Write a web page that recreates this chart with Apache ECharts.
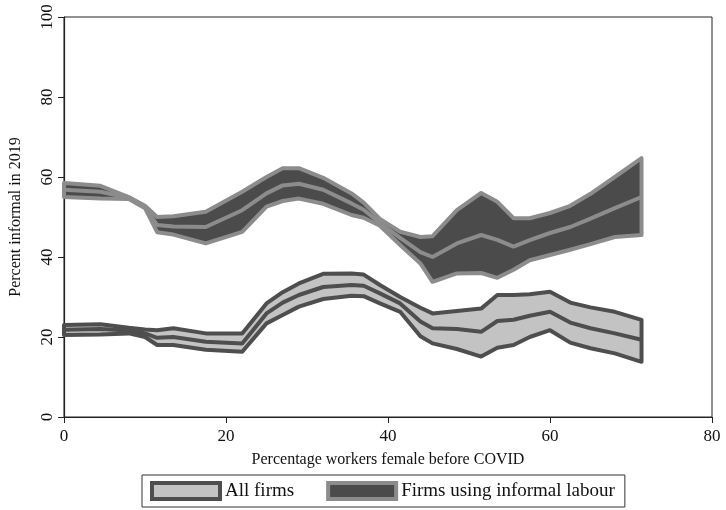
<!DOCTYPE html>
<html>
<head>
<meta charset="utf-8">
<script src="https://cdn.jsdelivr.net/npm/echarts@6/dist/echarts.min.js"></script>
<style>html,body{margin:0;padding:0;background:#fff}#c{width:726px;height:510px}</style>
</head>
<body>
<div id="c"></div>
<script>
const xs = [0, 4.5, 8, 10, 11.5, 13.5, 17.5, 22, 25, 27, 29, 32, 35.5, 37, 39, 41.5, 44, 45.5, 48.5, 51.5, 53.5, 55.5, 57.5, 60, 62.5, 65, 68, 71.3];

const informalUpper = [58.5, 57.8, 55.0, 52.8, 50.0, 50.2, 51.3, 56.3, 60.0, 62.2, 62.2, 59.8, 55.9, 53.6, 49.5, 46.3, 45.0, 45.2, 51.7, 56.0, 53.8, 49.7, 49.7, 51.0, 52.8, 55.8, 60.0, 64.7];
const informalMean  = [56.8, 56.3, 54.8, 52.5, 48.0, 47.6, 47.5, 51.7, 55.9, 57.9, 58.3, 56.8, 53.4, 51.8, 48.5, 44.8, 41.2, 40.0, 43.4, 45.5, 44.3, 42.6, 44.2, 46.0, 47.5, 49.6, 52.2, 55.0];
const informalLower = [55.0, 54.6, 54.5, 52.2, 46.2, 45.6, 43.4, 46.3, 52.6, 54.0, 54.6, 53.3, 50.5, 49.8, 47.8, 43.0, 38.4, 33.8, 35.9, 36.0, 34.8, 36.8, 39.2, 40.5, 41.8, 43.2, 45.0, 45.5];

const allUpper = [23.0, 23.2, 22.3, 21.9, 21.7, 22.2, 20.9, 20.9, 28.4, 31.2, 33.4, 35.8, 35.9, 35.6, 33.0, 30.0, 27.3, 25.9, 26.5, 27.1, 30.5, 30.5, 30.7, 31.3, 28.6, 27.4, 26.3, 24.3];
const allMean  = [21.8, 22.0, 21.6, 20.9, 19.8, 20.0, 18.8, 18.4, 25.9, 28.6, 30.5, 32.5, 33.0, 32.8, 30.9, 28.4, 23.9, 22.2, 22.0, 21.3, 24.0, 24.3, 25.3, 26.3, 23.6, 22.2, 20.9, 19.3];
const allLower = [20.5, 20.6, 20.9, 20.0, 18.0, 18.0, 16.8, 16.3, 23.4, 25.5, 27.6, 29.5, 30.3, 30.2, 28.4, 26.3, 20.2, 18.4, 17.0, 15.1, 17.3, 18.0, 20.0, 21.7, 18.6, 17.2, 15.9, 13.8];

const xTicks = [0, 20, 40, 60, 80];
const yTicks = [0, 20, 40, 60, 80, 100];
const seriesNames = ['All firms', 'Firms using informal labour'];

const C = {
  allFill: '#c3c3c3', allLine: '#4e4e4e',
  infFill: '#4b4b4b', infLine: '#8c8c8c'
};

function band(lo, hi, fill, stroke) {
  return function (params, api) {
    const pts = [];
    for (let i = 0; i < xs.length; i++) pts.push(api.coord([xs[i], hi[i]]));
    for (let i = xs.length - 1; i >= 0; i--) pts.push(api.coord([xs[i], lo[i]]));
    return {
      type: 'polygon',
      shape: { points: pts },
      style: { fill: fill, stroke: stroke, lineWidth: 4, lineJoin: 'round' }
    };
  };
}
const pairs = arr => xs.map((x, i) => [x, arr[i]]);
const font = 'Liberation Serif';

const chart = echarts.init(document.getElementById('c'), null, { renderer: 'canvas' });
chart.setOption({
  backgroundColor: '#fff',
  animation: false,
  grid: { left: 64, right: 14, top: 17, bottom: 93, show: true, borderColor: '#222', borderWidth: 1, backgroundColor: 'transparent' },
  xAxis: {
    type: 'value', min: xTicks[0], max: xTicks[xTicks.length - 1], interval: 20,
    name: 'Percentage workers female before COVID', nameLocation: 'middle', nameGap: 35,
    nameTextStyle: { fontFamily: font, fontSize: 16, color: '#111' },
    axisLine: { lineStyle: { color: '#222', width: 1.2 } },
    axisTick: { show: true, length: 6, lineStyle: { color: '#222' } },
    axisLabel: { fontFamily: font, fontSize: 17, color: '#111', margin: 11 },
    splitLine: { show: false }
  },
  yAxis: {
    type: 'value', min: yTicks[0], max: yTicks[yTicks.length - 1], interval: 20,
    name: 'Percent informal in 2019', nameLocation: 'middle', nameGap: 40,
    nameTextStyle: { fontFamily: font, fontSize: 16, color: '#111' },
    axisLine: { show: true, lineStyle: { color: '#222', width: 1.2 } },
    axisTick: { show: true, length: 6, lineStyle: { color: '#222' } },
    axisLabel: { fontFamily: font, fontSize: 17, color: '#111', rotate: 90, margin: 8 },
    splitLine: { show: false }
  },
  legend: {
    left: 142, top: 475,
    data: [
      { name: seriesNames[0], icon: 'rect', itemStyle: { color: C.allFill, borderColor: C.allLine, borderWidth: 4 } },
      { name: seriesNames[1], icon: 'rect', itemStyle: { color: C.infFill, borderColor: C.infLine, borderWidth: 4 } }
    ],
    itemWidth: 68, itemHeight: 16, itemGap: 32, itemTextGap: 16,
    padding: [6, 10, 6, 8],
    borderColor: '#333', borderWidth: 1, backgroundColor: '#fff',
    textStyle: { fontFamily: font, fontSize: 19, color: '#111' },
    selectedMode: false
  },
  series: [
    { name: seriesNames[1], type: 'custom', data: [[0, 0]], renderItem: band(informalLower, informalUpper, C.infFill, C.infLine), itemStyle: { color: C.infFill }, z: 2 },
    { name: seriesNames[0], type: 'custom', data: [[0, 0]], renderItem: band(allLower, allUpper, C.allFill, C.allLine), itemStyle: { color: C.allFill }, z: 2 },
    { name: 'informalMean', type: 'line', data: pairs(informalMean), showSymbol: false, lineStyle: { color: C.infLine, width: 4 }, z: 3 },
    { name: 'allMean', type: 'line', data: pairs(allMean), showSymbol: false, lineStyle: { color: C.allLine, width: 4 }, z: 3 }
  ]
});
</script>
</body>
</html>
